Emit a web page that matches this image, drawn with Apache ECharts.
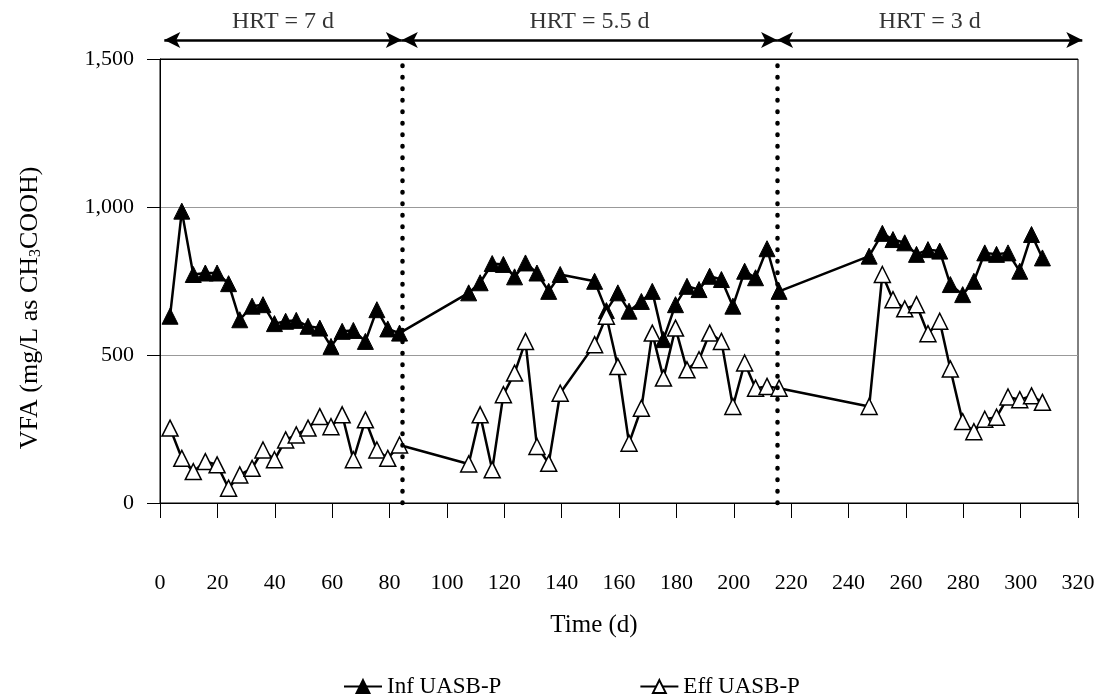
<!DOCTYPE html>
<html>
<head>
<meta charset="utf-8">
<script src="https://cdn.jsdelivr.net/npm/echarts@6/dist/echarts.min.js"></script>
<style>html,body{margin:0;padding:0;background:#fff;}#c{width:1105px;height:695px;}</style>
</head>
<body>
<div id="c"></div>
<script>
// Sampling days (d)
var days = [3.5, 7.6, 11.6, 15.8, 19.9, 23.9, 27.8, 32.1, 35.9, 39.9, 43.8, 47.5, 51.6, 55.7, 59.6, 63.5, 67.4, 71.6, 75.6, 79.4, 83.5,
  107.6, 111.6, 115.8, 119.7, 123.6, 127.4, 131.4, 135.5, 139.5, 151.5, 155.6, 159.6, 163.5, 167.8, 171.6, 175.5, 179.7, 183.7, 187.9, 191.6, 195.7, 199.7, 203.8, 207.6, 211.6, 215.8,
  247.2, 251.8, 255.5, 259.6, 263.7, 267.7, 271.8, 275.5, 279.8, 283.7, 287.5, 291.6, 295.6, 299.7, 303.8, 307.6];
// Influent VFA (mg/L as CH3COOH)
var infVFA = [631, 986, 772, 777, 777, 741, 619, 665, 670, 606, 614, 617, 597, 591, 529, 580, 583, 546, 653, 588, 574,
  710, 744, 809, 806, 764, 811, 777, 715, 772, 749, 650, 710, 648, 681, 715, 552, 670, 732, 721, 766, 755, 665, 783, 761, 859, 715,
  834, 911, 890, 879, 840, 856, 851, 738, 704, 749, 845, 840, 845, 783, 907, 828];
// Effluent VFA (mg/L as CH3COOH)
var effVFA = [253, 151, 106, 140, 129, 50, 95, 117, 179, 146, 213, 230, 253, 292, 258, 298, 146, 281, 179, 151, 196,
  132, 298, 112, 366, 439, 546, 191, 134, 371, 535, 631, 461, 202, 320, 574, 422, 591, 450, 484, 574, 546, 326, 473, 388, 394, 388,
  326, 772, 687, 656, 670, 572, 614, 453, 275, 241, 283, 290, 358, 349, 362, 340];
// HRT phases: start day, end day, label
var phaseStart = [1.5, 84.3, 215.1];
var phaseEnd = [84.3, 215.1, 321.5];
var phaseLabels = ['HRT = 7 d', 'HRT = 5.5 d', 'HRT = 3 d'];
var hrtBoundaries = [84.3, 215.1];
var xTicks = {min: 0, max: 320, interval: 20};
var yTicks = {min: 0, max: 1500, interval: 500};

var FONT = 'Liberation Serif';
function pairs(xs, ys) { return xs.map(function (x, i) { return [x, ys[i]]; }); }

var arrowLines = phaseStart.map(function (s, i) {
  return [{coord: [s, 0.5]}, {coord: [phaseEnd[i], 0.5]}];
});
var phaseText = phaseStart.map(function (s, i) {
  return {value: [(s + phaseEnd[i]) / 2, 0.5], name: phaseLabels[i]};
});

var chart = echarts.init(document.getElementById('c'), null, {renderer: 'canvas'});
chart.setOption({
  animation: false,
  backgroundColor: '#fff',
  textStyle: {fontFamily: FONT, color: '#000'},
  grid: [
    {left: 160, right: 27, top: 59, bottom: 192, show: true, borderColor: '#000', borderWidth: 1, backgroundColor: 'transparent'},
    {left: 160, right: 21.26, top: 25, height: 30}
  ],
  legend: {
    left: 338, top: 670, itemGap: 138, itemWidth: 38, itemHeight: 16,
    textStyle: {fontFamily: FONT, fontSize: 23, color: '#000'},
    data: ['Inf UASB-P', 'Eff UASB-P']
  },
  xAxis: [{
    type: 'value', min: xTicks.min, max: xTicks.max, interval: xTicks.interval,
    name: 'Time (d)', nameLocation: 'middle', nameGap: 110,
    nameTextStyle: {fontFamily: FONT, fontSize: 25, color: '#000', padding: [0, 50, 0, 0]},
    axisLine: {show: true, lineStyle: {color: '#000', width: 1}},
    axisTick: {show: true, inside: false, length: 15, lineStyle: {color: '#000', width: 1}},
    axisLabel: {margin: 69, fontFamily: FONT, fontSize: 22, color: '#000'},
    splitLine: {show: false}
  }, {
    gridIndex: 1, type: 'value', min: xTicks.min, max: 322, show: false
  }],
  yAxis: [{
    type: 'value', min: yTicks.min, max: yTicks.max, interval: yTicks.interval,
    name: 'VFA (mg/L as CH{sub|3}COOH)', nameLocation: 'middle', nameGap: 116,
    nameTextStyle: {fontFamily: FONT, fontSize: 26, color: '#000', lineHeight: 28, padding: [0, 54, 0, 0],
      rich: {sub: {fontFamily: FONT, fontSize: 16, lineHeight: 12, verticalAlign: 'bottom', color: '#000'}}},
    axisLine: {show: true, lineStyle: {color: '#000', width: 1}},
    axisTick: {show: true, inside: false, length: 13, lineStyle: {color: '#000', width: 1}},
    axisLabel: {margin: 26, fontFamily: FONT, fontSize: 22, color: '#000',
      formatter: function (v) { return v.toLocaleString('en-US'); }},
    splitLine: {show: true, lineStyle: {color: ['#000', '#999', '#999', '#000'], width: 1}}
  }, {
    gridIndex: 1, type: 'value', min: 0, max: 1, show: false
  }],
  series: [{
    name: 'Inf UASB-P', type: 'line', data: pairs(days, infVFA),
    symbol: 'triangle', symbolSize: 16,
    itemStyle: {color: '#000', borderColor: '#000', borderWidth: 1},
    lineStyle: {color: '#000', width: 2.5},
    z: 3,
    markLine: {
      silent: true, symbol: ['none', 'none'], label: {show: false},
      lineStyle: {color: '#000', width: 4.5, type: [0.5, 11], cap: 'round'},
      data: hrtBoundaries.map(function (d) { return {xAxis: d}; })
    }
  }, {
    name: 'Eff UASB-P', type: 'line', data: pairs(days, effVFA),
    symbol: 'triangle', symbolSize: 16,
    itemStyle: {color: '#fff', borderColor: '#000', borderWidth: 1.5},
    lineStyle: {color: '#000', width: 2.5},
    z: 4
  }, {
    type: 'scatter', xAxisIndex: 1, yAxisIndex: 1, symbolSize: 1,
    itemStyle: {color: 'rgba(0,0,0,0)'},
    data: phaseText,
    label: {show: true, position: 'top', distance: 6, formatter: '{b}',
      fontFamily: FONT, fontSize: 24, color: '#000'},
    markLine: {
      silent: true, symbol: ['arrow', 'arrow'], symbolSize: [12, 16], label: {show: false},
      lineStyle: {color: '#000', width: 2.5, type: 'solid'},
      data: arrowLines
    }
  }]
});
</script>
</body>
</html>
